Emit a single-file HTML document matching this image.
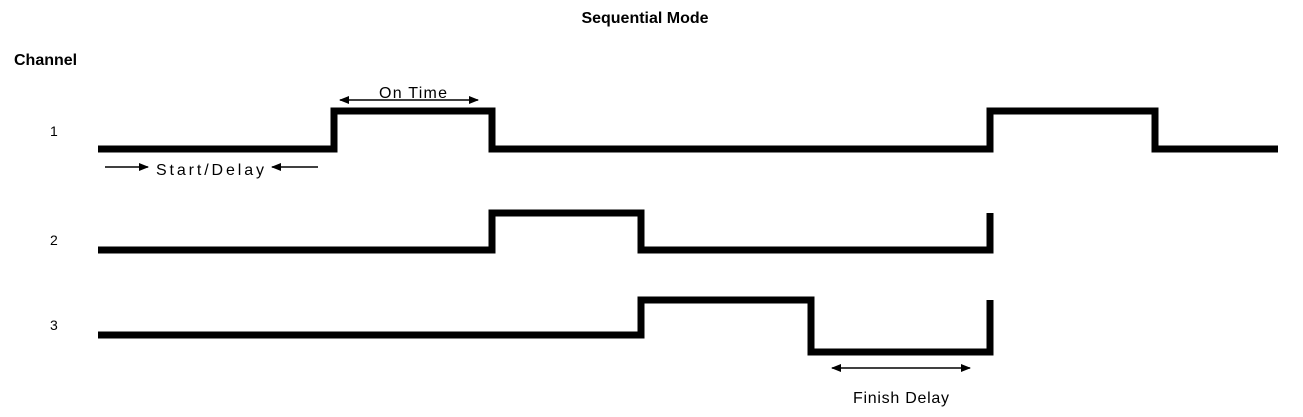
<!DOCTYPE html>
<html><head><style>
body{margin:0;background:#fff;width:1303px;height:412px;overflow:hidden}
</style></head><body>
<svg width="1303" height="412" xmlns="http://www.w3.org/2000/svg" font-family="Liberation Sans, sans-serif">
<defs>
<marker id="a" markerWidth="10" markerHeight="8" refX="9" refY="4" orient="auto-start-reverse" markerUnits="userSpaceOnUse">
<path d="M0,0 L10,4 L0,8 z" fill="#000"/></marker>
</defs>
<text x="645" y="23" text-anchor="middle" font-size="16" font-weight="bold">Sequential Mode</text>
<text x="14" y="65" font-size="16" font-weight="bold">Channel</text>
<text x="50" y="136" font-size="14">1</text>
<text x="50" y="245" font-size="14">2</text>
<text x="50" y="330" font-size="14">3</text>
<g fill="none" stroke="#000" stroke-width="7" stroke-linejoin="miter">
<polyline points="98,149 334,149 334,111 492,111 492,149 990,149 990,111 1155,111 1155,149 1278,149"/>
<polyline points="98,250 492,250 492,213 641,213 641,250 990,250 990,213"/>
<polyline points="98,335 641,335 641,300 811,300 811,352 990,352 990,300"/>
</g>
<g stroke="#000" stroke-width="1.5">
<line x1="340" y1="100" x2="478" y2="100" marker-end="url(#a)" marker-start="url(#a)"/>
<line x1="105" y1="167" x2="148" y2="167" marker-end="url(#a)"/>
<line x1="318" y1="167" x2="272" y2="167" marker-end="url(#a)"/>
<line x1="832" y1="368" x2="970" y2="368" marker-end="url(#a)" marker-start="url(#a)"/>
</g>
<text x="413" y="98" text-anchor="middle" font-size="16" textLength="68">On Time</text>
<text x="210" y="175" text-anchor="middle" font-size="16" textLength="108">Start/Delay</text>
<text x="901" y="403" text-anchor="middle" font-size="16" textLength="96">Finish Delay</text>
</svg>
</body></html>
